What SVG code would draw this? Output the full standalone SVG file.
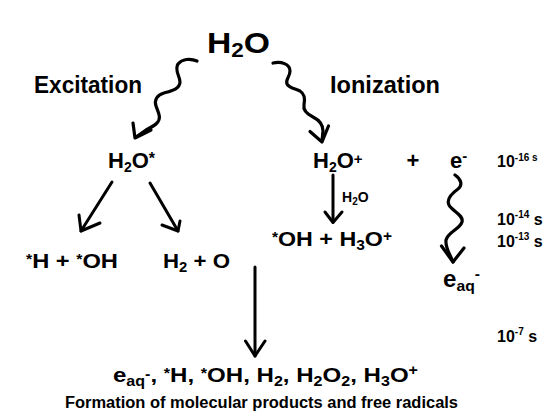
<svg xmlns="http://www.w3.org/2000/svg" width="550" height="418" viewBox="0 0 550 418">
<style>
text{font-family:"Liberation Sans",Arial,sans-serif;font-weight:bold;fill:#000}
.sh{fill:none;stroke:#000;stroke-width:3;stroke-linecap:round;stroke-linejoin:round}
.wv{fill:none;stroke:#000;stroke-width:3.2;stroke-linecap:round;stroke-linejoin:round}
</style>
<rect width="550" height="418" fill="#fff"/>
<g id="connectors">
<path class="wv" d="M197,61 C190,58 182,59 178,64 C174,70 180,76 180,82 C180,89 171,91 164,93 C157,95 154,100 156,106 C158,112 162,118 157,123 C154,126 150,128 146,130 L136,137"/>
<polyline class="wv" points="133,123 135,138 151,130"/>
<path class="wv" d="M273,63 C281,61 290,64 290,71 C290,77 285,80 287,84 C289,88 296,89 300,91 C305,94 305,100 304,105 C303,110 307,114 313,117 C319,120 323,124 323,131 L322,141"/>
<polyline class="wv" points="310,131.5 322,142 328.5,126"/>
<path class="wv" d="M455,175 C461,179 463,185 458,189 C451,194 446,199 449,205 C452,211 464,215 462,222 C460,229 448,232 446,240 C445,248 450,254 453,262"/>
<polyline class="wv" points="441.5,246 453,262 464,248"/>
<line class="sh" x1="112" y1="182" x2="81" y2="231"/>
<polyline class="sh" points="79,215 81,231 100,223"/>
<line class="sh" x1="150" y1="183" x2="178" y2="231"/>
<polyline class="sh" points="162,225 178,231 180,221"/>
<line class="sh" x1="333" y1="175" x2="333" y2="222"/>
<polyline class="sh" points="325,212 333,222.5 342,212"/>
<line class="sh" x1="255" y1="267" x2="255" y2="356"/>
<polyline class="sh" points="245.5,341 255,356 265,341"/>
</g>
<g id="water"><text x="207" y="53" font-size="30" textLength="63" lengthAdjust="spacingAndGlyphs">H<tspan font-size="20" y="57">2</tspan><tspan y="53">O</tspan></text></g>
<g id="excitation"><text x="34" y="93" font-size="23" textLength="108" lengthAdjust="spacingAndGlyphs">Excitation</text></g>
<g id="ionization"><text x="330" y="93" font-size="23" textLength="110" lengthAdjust="spacingAndGlyphs">Ionization</text></g>
<g id="excited-water"><text x="108" y="168" font-size="22">H<tspan font-size="14" y="172">2</tspan><tspan y="168">O</tspan><tspan font-size="16" y="164">*</tspan></text></g>
<g id="water-ion"><text x="313" y="168" font-size="22">H<tspan font-size="14" y="172">2</tspan><tspan y="168">O</tspan><tspan font-size="15" y="163.5">+</tspan></text></g>
<g id="plus"><text x="413" y="168" font-size="22" text-anchor="middle">+</text></g>
<g id="electron"><text x="450" y="168" font-size="22">e<tspan font-size="15" y="161">-</tspan></text></g>
<g id="water-label"><text x="342" y="202" font-size="14">H<tspan font-size="10" y="205">2</tspan><tspan y="202">O</tspan></text></g>
<g id="t16"><text x="497" y="167" font-size="16">10<tspan font-size="10" y="160.5">-16 s</tspan></text></g>
<g id="t14"><text x="497" y="225" font-size="16">10<tspan font-size="10" y="218">-14</tspan><tspan y="225"> s</tspan></text></g>
<g id="t13"><text x="497" y="247" font-size="16">10<tspan font-size="10" y="240">-13</tspan><tspan y="247"> s</tspan></text></g>
<g id="t7"><text x="497" y="342" font-size="16">10<tspan font-size="10" y="335">-7</tspan><tspan y="342"> s</tspan></text></g>
<g id="oh-h3o"><text x="272" y="246" font-size="21" textLength="120" lengthAdjust="spacingAndGlyphs"><tspan font-size="14" y="242">*</tspan><tspan y="246">OH + H</tspan><tspan font-size="14" y="250">3</tspan><tspan y="246">O</tspan><tspan font-size="14" y="240.5">+</tspan></text></g>
<g id="h-oh"><text x="26" y="268" font-size="21" textLength="92" lengthAdjust="spacingAndGlyphs"><tspan font-size="14" y="264">*</tspan><tspan y="268">H + </tspan><tspan font-size="14" y="264">*</tspan><tspan y="268">OH</tspan></text></g>
<g id="h2-o"><text x="163" y="268" font-size="21" textLength="67" lengthAdjust="spacingAndGlyphs">H<tspan font-size="14" y="272">2</tspan><tspan y="268"> + O</tspan></text></g>
<g id="hydrated-electron"><text x="443" y="287" font-size="23" textLength="37" lengthAdjust="spacingAndGlyphs">e<tspan font-size="15" y="291">aq</tspan><tspan font-size="15" y="279">-</tspan></text></g>
<g id="products"><text x="113" y="381.5" font-size="21" textLength="305" lengthAdjust="spacingAndGlyphs">e<tspan font-size="14" y="385.5">aq</tspan><tspan font-size="14" y="378.5">-</tspan><tspan y="381.5">, </tspan><tspan font-size="14" y="377.5">*</tspan><tspan y="381.5">H, </tspan><tspan font-size="14" y="377.5">*</tspan><tspan y="381.5">OH, H</tspan><tspan font-size="14" y="385.5">2</tspan><tspan y="381.5">, H</tspan><tspan font-size="14" y="385.5">2</tspan><tspan y="381.5">O</tspan><tspan font-size="14" y="385.5">2</tspan><tspan y="381.5">, H</tspan><tspan font-size="14" y="385.5">3</tspan><tspan y="381.5">O</tspan><tspan font-size="14" y="374.5">+</tspan></text></g>
<g id="caption"><text x="65" y="407.5" font-size="16" textLength="393" lengthAdjust="spacingAndGlyphs">Formation of molecular products and free radicals</text></g>
</svg>
